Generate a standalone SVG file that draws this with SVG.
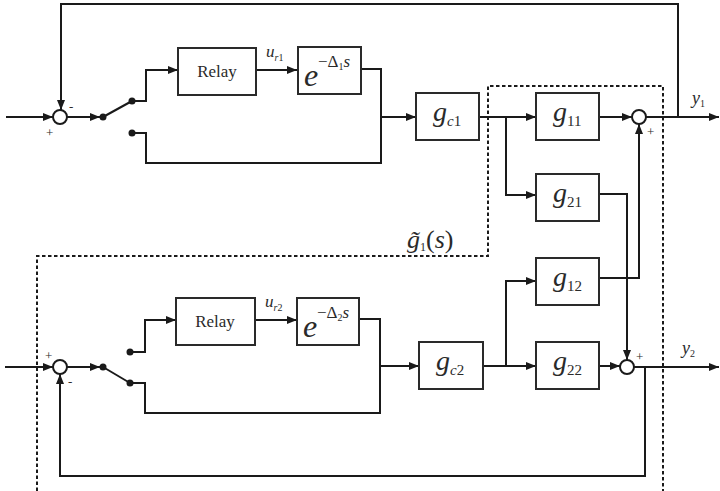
<svg xmlns="http://www.w3.org/2000/svg" width="720" height="491" viewBox="0 0 720 491">
<defs>
<marker id="a" viewBox="0 0 10 8" refX="10" refY="4" markerWidth="10" markerHeight="8" orient="auto" markerUnits="userSpaceOnUse"><path d="M0,0 L10,4 L0,8 z" fill="#1a1a1a"/></marker>
<style>
.ln{fill:none;stroke:#1a1a1a;stroke-width:2}
.ar{fill:none;stroke:#1a1a1a;stroke-width:2;marker-end:url(#a)}
.bx{fill:#fff;stroke:#2a2a2a;stroke-width:2}
.sm{fill:#fff;stroke:#1a1a1a;stroke-width:2}
.dot{fill:#1a1a1a}
.dash{fill:none;stroke:#1a1a1a;stroke-width:2;stroke-dasharray:3.5,2.5}
text{font-family:"Liberation Serif","Times New Roman",serif;fill:#2a2a2a}
.it{font-style:italic}
.rl{font-size:17px}
.sg{font-size:13px}
</style>
</defs>
<rect width="720" height="491" fill="#fff"/>
<path class="dash" d="M37,491 V256 H488 V86 H663 V491"/>
<g id="connectors">
<path class="ar" d="M678,117 V4 H61 V110"/>
<path class="ar" d="M6,117 H53"/>
<path class="ar" d="M67,117 H100"/>
<path class="ln" d="M103,117 L132,101"/>
<path class="ar" d="M132,101 H146 V70 H178"/>
<path class="ar" d="M256,70 H297"/>
<path class="ln" d="M361,69 H381 V163 H146 V133 H132"/>
<path class="ar" d="M381,117 H416"/>
<path class="ar" d="M479,117 H536"/>
<path class="ar" d="M506,117 V195 H536"/>
<path class="ar" d="M599,117 H632"/>
<path class="ar" d="M646,117 H719"/>
<path class="ar" d="M599,194 H627 V360"/>
<path class="ar" d="M599,278 H639 V124"/>
<path class="ar" d="M5,367 H53"/>
<path class="ar" d="M67,367 H100"/>
<path class="ln" d="M103,367 L130,383"/>
<path class="ar" d="M130,352 H145 V320 H176"/>
<path class="ar" d="M255,320 H297"/>
<path class="ln" d="M359,319 H380 V413 H145 V383 H130"/>
<path class="ar" d="M380,366 H419"/>
<path class="ar" d="M483,366 H536"/>
<path class="ar" d="M506,366 V281 H536"/>
<path class="ar" d="M599,366 H620"/>
<path class="ar" d="M634,367 H719"/>
<path class="ar" d="M645,367 V476 H60 V374"/>
<circle class="dot" cx="103" cy="117" r="3.5"/>
<circle class="dot" cx="132" cy="101" r="3.5"/>
<circle class="dot" cx="132" cy="133" r="3.5"/>
<circle class="dot" cx="103" cy="367" r="3.5"/>
<circle class="dot" cx="130" cy="352" r="3.5"/>
<circle class="dot" cx="130" cy="383" r="3.5"/>
</g>
<g id="sum1"><circle class="sm" cx="60" cy="117" r="7"/><text class="sg" x="46" y="137">+</text><text class="sg" x="69" y="111">-</text></g>
<g id="sum2"><circle class="sm" cx="639" cy="117" r="7"/><text class="sg" x="647" y="136">+</text></g>
<g id="sum3"><circle class="sm" cx="627" cy="367" r="7"/><text class="sg" x="636" y="361">+</text></g>
<g id="sum4"><circle class="sm" cx="60" cy="367" r="7"/><text class="sg" x="45" y="360">+</text><text class="sg" x="68" y="386">-</text></g>
<g id="relay1"><rect class="bx" x="178" y="48" width="78" height="47"/><text class="rl" x="217" y="77" text-anchor="middle">Relay</text></g>
<g id="delay1"><rect class="bx" x="298" y="47" width="63" height="47"/><text class="it" x="304" y="86" font-size="32">e</text><text x="318" y="67" font-size="17">−Δ<tspan font-size="10" dy="3">1</tspan><tspan class="it" dy="-3">s</tspan></text></g>
<g id="ur1"><text class="it" x="266" y="57" font-size="17">u<tspan font-size="10" dy="4">r</tspan><tspan font-size="10" font-style="normal">1</tspan></text></g>
<g id="gc1"><rect class="bx" x="416" y="93" width="63" height="47"/><text class="it" x="433" y="121" font-size="28">g<tspan font-size="15" dy="5">c</tspan><tspan font-size="15" font-style="normal">1</tspan></text></g>
<g id="g11"><rect class="bx" x="536" y="93" width="63" height="47"/><text class="it" x="553" y="121" font-size="28">g<tspan font-size="15" dy="5" font-style="normal">11</tspan></text></g>
<g id="g21"><rect class="bx" x="536" y="174" width="63" height="47"/><text class="it" x="553" y="202" font-size="28">g<tspan font-size="15" dy="5" font-style="normal">21</tspan></text></g>
<g id="g12"><rect class="bx" x="536" y="258" width="63" height="47"/><text class="it" x="553" y="286" font-size="28">g<tspan font-size="15" dy="5" font-style="normal">12</tspan></text></g>
<g id="g22"><rect class="bx" x="536" y="342" width="63" height="47"/><text class="it" x="553" y="370" font-size="28">g<tspan font-size="15" dy="5" font-style="normal">22</tspan></text></g>
<g id="y1"><text class="it" x="692" y="104" font-size="18">y<tspan font-size="10" dy="3" font-style="normal">1</tspan></text></g>
<g id="relay2"><rect class="bx" x="176" y="298" width="79" height="47"/><text class="rl" x="215" y="327" text-anchor="middle">Relay</text></g>
<g id="delay2"><rect class="bx" x="297" y="298" width="62" height="47"/><text class="it" x="303" y="337" font-size="32">e</text><text x="317" y="318" font-size="17">−Δ<tspan font-size="10" dy="3">2</tspan><tspan class="it" dy="-3">s</tspan></text></g>
<g id="ur2"><text class="it" x="265" y="307" font-size="17">u<tspan font-size="10" dy="4">r</tspan><tspan font-size="10" font-style="normal">2</tspan></text></g>
<g id="gc2"><rect class="bx" x="419" y="342" width="64" height="47"/><text class="it" x="436" y="370" font-size="28">g<tspan font-size="15" dy="5">c</tspan><tspan font-size="15" font-style="normal">2</tspan></text></g>
<g id="y2"><text class="it" x="682" y="354" font-size="18">y<tspan font-size="10" dy="3" font-style="normal">2</tspan></text></g>
<g id="g1tilde"><text x="407" y="248" font-size="26"><tspan class="it">g̃</tspan><tspan font-size="12" dy="3">1</tspan><tspan dy="-3">(</tspan><tspan class="it">s</tspan>)</text></g>
</svg>
